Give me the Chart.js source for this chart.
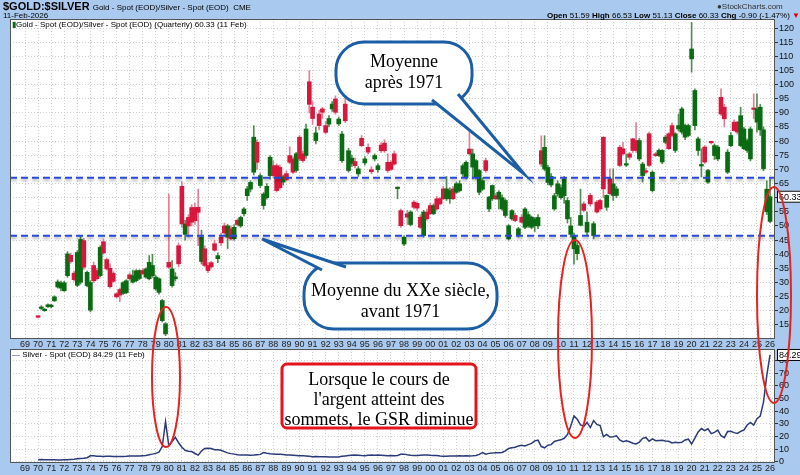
<!DOCTYPE html>
<html>
<head>
<meta charset="utf-8">
<script src="https://cdn.jsdelivr.net/npm/chart.js@4.4.1/dist/chart.umd.min.js"></script>
<style>
  body { margin: 0; background: #a9c9ee; }
  #wrap { position: relative; width: 800px; height: 475px; overflow: hidden; font-family: "Liberation Sans", Arial, sans-serif; }
  canvas { position: absolute; left: 0; top: 0; }
  .t { position: absolute; white-space: nowrap; color: #000; line-height: 1; }
</style>
</head>
<body>
<div id="wrap">
  <canvas id="lower" width="800" height="475"></canvas>
  <canvas id="upper" width="800" height="475"></canvas>
  <div class="t" style="left:3px;top:1px;font-size:11px;font-weight:bold;">$GOLD:$SILVER <span style="font-size:8px;font-weight:normal;">Gold - Spot (EOD)/Silver - Spot (EOD)&nbsp; CME</span></div>
  <div class="t" style="left:3px;top:12px;font-size:8px;">11-Feb-2026</div>
  <div class="t" style="left:717px;top:3px;font-size:8px;color:#333;">&#9679;StockCharts.com</div>
  <div class="t" style="left:547px;top:12px;font-size:8px;"><b>Open</b> 51.59 <b>High</b> 66.53 <b>Low</b> 51.13 <b>Close</b> 60.33 <b>Chg</b> -0.90 (-1.47%) <span style="color:#d00">&#9660;</span></div>
  <div class="t" style="left:12px;top:21px;font-size:8px;"><span style="color:#0a6e14">&#9646;</span>Gold - Spot (EOD)/Silver - Spot (EOD) (Quarterly) 60.33 (11 Feb)</div>
  <div class="t" style="left:12px;top:351px;font-size:8px;"><span style="color:#2b3a78">&#8212;</span> Silver - Spot (EOD) 84.29 (11 Feb)</div>
</div>
<script>
// quarterly candles of the gold/silver ratio, first candle = 1970 Q1
const firstQuarter = 1970;
const opens = [
  18.0, 20.8, 20.0, 21.4,  21.4, 23.5, 28.4, 28.0,  27.1, 32.4, 39.6, 33.3,  29.0, 30.1, 44.8, 28.9,
  20.2, 36.0, 34.2, 32.4,  44.4, 38.1, 35.0, 33.2,  26.0, 27.5, 26.1, 26.4,  32.7, 30.1, 30.6, 31.4,
  34.2, 31.9, 31.3, 32.4,  27.7, 26.5, 16.5, 11.8,  37.1, 28.9, 31.3, 43.0,  64.0, 47.0, 53.0, 56.5,
  56.5, 56.6, 37.4, 41.9,  36.0, 37.0, 43.7, 38.4,  46.0, 50.0, 46.0, 49.0,  45.5, 52.0, 50.0, 54.3,
  60.7, 63.0, 69.0, 79.6,  64.3, 57.2, 60.0, 67.8,  71.3, 71.3, 70.7, 65.5,  68.5, 74.9, 73.7, 69.6,
  81.4, 75.5, 74.9, 101.0, 92.0, 80.2, 89.6, 91.4,  85.5, 86.0, 91.4, 94.9,  86.1, 73.1, 93.1, 69.6,
  72.0, 72.8, 68.4, 81.0,  72.3, 77.8, 69.9, 73.7,  69.9, 78.6, 79.3, 72.5,  72.5, 75.5, 63.2, 55.4,
  43.6, 54.3, 50.5, 58.4,  58.0, 53.1, 46.6, 54.9,  57.2, 54.3, 59.6, 59.6,  63.1, 59.6, 59.6, 63.1,
  61.9, 62.5, 68.4, 67.2,  77.2, 70.8, 67.2, 61.9,  63.0, 73.1, 56.0, 59.6,  60.7, 59.5, 56.0, 53.7,
  45.4, 52.5, 53.7, 46.6,  53.1, 49.5, 50.0, 49.5,  50.1, 50.0, 76.6, 70.1,  65.4, 64.5, 56.0, 61.3,
  60.0, 60.7, 52.5, 47.0,  41.9, 40.2, 50.2, 57.8,  47.8, 60.8, 46.6, 58.4,  59.0, 81.4, 56.6, 66.7,
  60.8, 60.8, 77.8, 77.3,  71.5, 75.5, 80.8, 80.2,  73.7, 67.8, 69.5, 82.6,  62.5, 75.5, 74.9, 72.6,
  79.6, 82.6, 85.5, 76.7,  84.3, 83.2, 81.4, 82.0,  109.1, 85.5, 76.7, 71.2, 77.9, 65.5, 79.8, 74.9,
  73.7, 95.5, 92.0, 69.0,  78.4, 86.7, 86.7, 78.4,  77.3, 76.7, 73.7, 91.6,  86.7, 84.0, 70.2, 55.0,
  51.59
];
const highs = [
  18.2, 21.8, 20.8, 22.4,  22.3, 25.3, 30.9, 30.5,  30.4, 40.9, 40.4, 34.0,  41.3, 46.6, 45.6, 34.0,
  30.6, 37.2, 35.0, 43.0,  45.2, 38.6, 36.6, 33.8,  26.4, 28.0, 30.3, 31.0,  33.4, 34.4, 34.6, 34.5,
  34.9, 35.2, 39.5, 40.0,  32.5, 31.6, 24.0, 15.8,  61.3, 37.7, 33.5, 44.0,  65.6, 52.0, 54.0, 57.5,
  58.0, 63.0, 48.5, 43.0,  37.0, 37.5, 45.0, 40.5,  47.5, 51.0, 50.5, 50.0,  50.5, 52.5, 53.5, 56.5,
  64.0, 66.0, 85.5, 80.5,  68.5, 61.8, 65.0, 74.9,  73.0, 72.0, 71.5, 68.0,  69.5, 78.0, 74.5, 76.0,
  82.0, 76.5, 86.0, 104.9, 94.0, 85.0, 91.0, 92.0,  87.0, 89.0, 94.0, 96.0,  88.5, 83.5, 95.5, 77.5,
  75.0, 74.0, 71.0, 82.0,  74.5, 79.0, 71.0, 75.5,  72.0, 79.5, 80.5, 75.5,  73.0, 76.5, 63.8, 56.0,
  46.5, 55.5, 55.4, 59.0,  58.5, 54.0, 55.5, 56.0,  58.0, 57.8, 60.5, 60.0,  64.0, 67.5, 63.5, 64.0,
  65.5, 66.0, 72.0, 73.0,  83.7, 77.2, 73.5, 70.0,  67.0, 74.0, 60.5, 64.5,  61.5, 62.5, 61.0, 59.6,
  50.5, 55.8, 54.5, 49.5,  54.0, 56.5, 55.0, 53.5,  53.0, 54.0, 81.9, 81.9,  71.5, 68.5, 61.5, 66.0,
  64.5, 67.5, 60.0, 53.0,  47.5, 44.0, 63.0, 58.5,  54.9, 61.5, 51.5, 59.0,  59.5, 81.5, 61.0, 70.2,
  70.2, 64.0, 78.5, 79.6,  75.5, 76.0, 81.0, 86.6,  81.0, 72.5, 70.5, 83.2,  69.5, 76.0, 77.3, 77.0,
  82.0, 83.0, 86.5, 83.0,  89.6, 92.0, 86.0, 86.0,  122.0, 98.5, 81.4, 77.3, 78.5, 70.0, 80.0, 79.0,
  78.5, 98.5, 93.0, 77.0,  83.0, 87.5, 87.0, 92.0,  85.0, 80.8, 85.0, 96.7,  96.7, 93.0, 85.0, 66.0,
  66.53
];
const lows = [
  17.5, 20.4, 19.8, 21.2,  21.0, 23.3, 28.0, 27.0,  26.8, 31.8, 36.8, 30.5,  28.5, 29.4, 34.6, 28.4,
  19.6, 30.0, 30.8, 32.0,  40.0, 34.4, 28.0, 30.0,  24.5, 23.2, 25.8, 26.0,  30.8, 29.8, 30.3, 31.0,
  32.7, 31.5, 30.9, 31.8,  27.2, 25.9, 16.0, 11.2,  35.0, 28.3, 30.5, 35.5,  49.5, 45.0, 46.0, 50.0,
  50.5, 43.0, 36.5, 35.5,  33.5, 35.0, 41.0, 37.0,  43.0, 47.0, 42.0, 45.0,  45.0, 50.0, 49.5, 53.5,
  59.0, 62.0, 68.0, 70.0,  63.5, 55.9, 59.5, 66.5,  67.0, 62.0, 63.0, 64.5,  66.0, 72.0, 68.5, 69.0,
  73.0, 72.5, 74.0, 90.0,  86.0, 79.0, 84.0, 88.0,  82.5, 85.0, 90.5, 89.5,  85.5, 72.5, 86.5, 69.0,
  71.0, 70.5, 67.5, 78.0,  71.5, 75.5, 68.5, 73.0,  69.0, 76.0, 76.0, 69.0,  69.6, 71.5, 59.6, 49.5,
  43.0, 50.5, 50.0, 56.0,  55.5, 49.0, 46.0, 52.0,  54.0, 54.0, 55.5, 57.5,  59.3, 59.0, 58.0, 59.3,
  61.5, 62.0, 67.5, 66.5,  75.0, 66.6, 66.5, 61.0,  62.5, 69.0, 55.0, 59.0,  59.3, 56.0, 55.5, 53.0,
  45.0, 52.0, 51.5, 46.0,  51.0, 49.0, 49.5, 49.0,  48.0, 49.0, 71.0, 69.5,  64.5, 63.8, 55.5, 60.5,
  59.5, 58.0, 51.0, 46.0,  36.5, 38.0, 50.0, 55.0,  46.6, 57.0, 45.4, 54.5,  55.5, 60.0, 55.5, 61.0,
  59.0, 60.0, 71.0, 75.0,  71.0, 73.5, 76.0, 76.0,  73.0, 65.5, 68.5, 71.0,  62.0, 74.5, 74.5, 72.0,
  79.0, 77.0, 81.5, 76.0,  83.5, 82.5, 80.5, 81.5,  104.4, 84.0, 74.9, 67.3, 72.0, 65.0, 79.0, 73.5,
  73.0, 89.0, 85.0, 68.5,  78.0, 83.5, 82.5, 78.0,  77.0, 76.0, 73.0, 87.9,  83.2, 82.0, 69.5, 54.0,
  51.13
];
const closes = [
  17.7, 21.3, 20.4, 22.1,  22.0, 24.9, 30.2, 29.8,  29.9, 40.1, 37.4, 31.0,  40.6, 45.2, 35.4, 33.6,
  30.0, 30.6, 31.3, 42.4,  40.4, 34.8, 28.5, 30.4,  24.9, 25.5, 29.9, 30.6,  31.3, 32.4, 34.1, 34.2,
  33.1, 34.8, 37.1, 36.0,  31.9, 31.3, 23.6, 15.4,  35.4, 34.8, 32.0, 36.6,  50.7, 50.7, 50.0, 51.3,
  51.8, 54.8, 46.0, 36.0,  34.2, 35.5, 41.4, 39.5,  44.0, 47.5, 50.0, 45.4,  49.5, 50.5, 53.0, 56.0,
  63.1, 65.4, 81.4, 72.5,  67.8, 61.3, 64.0, 74.3,  67.8, 62.5, 63.5, 67.4,  66.4, 72.5, 69.0, 75.5,
  73.7, 73.1, 84.3, 93.0,  88.0, 82.9, 85.5, 90.2,  83.1, 88.0, 93.1, 90.2,  87.8, 82.5, 87.2, 76.6,
  74.0, 71.3, 70.2, 78.4,  73.7, 76.1, 69.2, 74.9,  71.3, 76.6, 76.6, 69.6,  70.0, 71.9, 63.6, 50.1,
  46.0, 53.1, 54.9, 56.6,  56.3, 49.5, 54.9, 52.5,  54.3, 57.2, 56.0, 57.8,  59.6, 63.1, 62.5, 59.6,
  64.9, 64.9, 71.3, 72.5,  75.5, 75.5, 73.1, 69.6,  66.0, 69.6, 60.2, 64.3,  59.6, 61.9, 60.0, 59.0,
  50.1, 55.4, 51.9, 49.0,  51.3, 56.0, 54.0, 53.1,  52.5, 53.0, 71.9, 77.8,  70.7, 67.5, 60.7, 64.9,
  63.5, 66.6, 59.0, 50.0,  46.5, 43.1, 53.7, 55.5,  51.3, 57.8, 50.8, 54.9,  56.0, 63.1, 60.8, 61.4,
  64.9, 63.1, 71.4, 75.5,  72.0, 74.3, 76.7, 76.7,  80.2, 71.9, 69.0, 71.4,  69.0, 74.9, 76.7, 76.7,
  81.4, 77.3, 82.0, 82.6,  85.5, 91.4, 85.5, 85.5,  112.6, 97.9, 80.8, 71.6, 72.6, 69.6, 79.4, 78.4,
  77.9, 89.6, 87.9, 76.1,  82.0, 83.7, 83.2, 89.0,  84.3, 80.2, 84.3, 91.2,  91.4, 92.0, 84.0, 63.0,
  60.33
];
// quarterly silver close, same quarters
const silver = [
  1.6, 1.7, 1.6, 1.6,  1.5, 1.5, 1.4, 1.4,  1.5, 1.6, 1.8, 2.0,  2.3, 2.6, 2.8, 3.2,
  4.7, 4.8, 4.4, 4.4,  4.2, 4.4, 4.3, 4.2,  4.1, 4.2, 4.2, 4.3,  4.5, 4.5, 4.5, 4.6,
  4.8, 5.0, 5.5, 6.0,  6.6, 7.5, 12.0, 31.7,  12.5, 16.0, 19.3, 15.0,  11.5, 9.0, 8.3, 8.0,
  6.5, 5.2, 8.5, 10.5,  10.7, 10.5, 9.5, 9.4,  9.0, 8.0, 7.0, 6.4,  6.0, 5.6, 5.3, 5.4,
  5.3, 5.2, 5.3, 5.6,  5.8, 7.2, 6.7, 6.3,  6.2, 6.0, 5.9, 5.7,  5.4, 5.3, 5.2, 5.0,
  4.8, 4.7, 4.6, 4.3,  4.0, 4.1, 4.0, 3.9,  3.9, 3.8, 3.7, 3.7,  3.8, 4.3, 4.6, 4.9,
  5.2, 5.3, 5.2, 4.9,  4.7, 5.2, 5.3, 5.1,  5.4, 5.2, 5.0, 4.8,  5.0, 4.8, 5.0, 5.9,
  6.0, 5.5, 5.2, 5.0,  5.0, 5.2, 5.4, 5.3,  5.1, 5.0, 4.9, 4.6,  4.4, 4.3, 4.5, 4.6,
  4.6, 4.8, 4.6, 4.7,  4.5, 4.7, 5.0, 5.8,  7.2, 6.0, 6.6, 6.8,  7.1, 7.0, 7.3, 8.6,
  10.5, 11.0, 11.5, 12.5,  13.0, 12.5, 13.5, 14.5,  16.5, 17.0, 12.0, 11.0,  13.0, 13.5, 16.0, 16.8,
  17.3, 18.5, 21.5, 28.0,  36.2, 33.5, 29.0, 28.0,  31.0, 27.0, 32.5, 29.5,  28.5, 19.8, 21.5, 19.5,
  19.8, 20.5, 17.2, 15.8,  16.5, 15.8, 14.6, 14.0,  15.5, 18.5, 19.2, 16.2,  18.0, 16.6, 16.8, 16.9,
  16.4, 16.1, 14.8, 15.4,  15.0, 15.3, 17.2, 17.8,  14.0, 18.6, 23.5, 26.2,  24.5, 26.0, 22.2, 23.2,
  25.0, 20.5, 19.0, 23.8,  24.0, 23.0, 22.3, 24.0,  25.0, 29.0, 31.0, 29.0,  34.0, 36.0, 47.0, 68.0,
  84.29
];
const ratioLevels = [67, 46.5];               // "Moyenne après 1971", "Moyenne du XXe siècle"
const ratioTicks = [15, 20, 25, 30, 35, 40, 45, 50, 55, 60, 65, 70, 75, 80, 85, 90, 95, 100, 105, 110, 115, 120];
const silverTicks = [0, 5, 10, 15, 20, 25, 30, 35, 40, 45, 50, 55, 60, 65, 70, 75, 80, 85];
const yearTicks = [];
for (let y = 1969; y <= 2026; y++) yearTicks.push(y);

const xMin = 1967.85, xMax = 2026.38;
const green = '#0b6b12', red = '#d8173c';
const font = { family: '"Liberation Sans", Arial, sans-serif', size: 9 };

const xs = opens.map((o, i) => firstQuarter + i / 4);
const isUp = closes.map((c, i) => c >= opens[i]);

const frame = {
  id: 'frame',
  beforeDraw(chart) {
    const a = chart.chartArea, ctx = chart.ctx;
    ctx.save();
    ctx.fillStyle = '#ffffff';
    ctx.fillRect(a.left, a.top, a.right - a.left, a.bottom - a.top);
    ctx.restore();
  },
  beforeDatasetDraw(chart, args) {
    if (chart.data.datasets[args.index].shadow) {
      chart.ctx.save();
      chart.ctx.shadowColor = 'rgba(0,0,0,0.35)';
      chart.ctx.shadowBlur = 3;
      chart.ctx.shadowOffsetY = 2;
    }
  },
  afterDatasetDraw(chart, args) {
    if (chart.data.datasets[args.index].shadow) chart.ctx.restore();
  },
  afterDraw(chart) {
    const a = chart.chartArea, ctx = chart.ctx;
    ctx.save();
    ctx.strokeStyle = '#555';
    ctx.lineWidth = 1;
    ctx.strokeRect(a.left + 0.5, a.top + 0.5, a.right - a.left - 1, a.bottom - a.top - 1);
    ctx.restore();
    const tag = chart.options.plugins.frame && chart.options.plugins.frame.tag;
    if (tag) {
      const y = chart.scales.y.getPixelForValue(tag);
      ctx.save();
      ctx.font = '9px "Liberation Sans", Arial, sans-serif';
      const txt = tag.toFixed(2);
      const w = ctx.measureText(txt).width + 4;
      ctx.fillStyle = '#fff';
      ctx.fillRect(a.right + 2, y - 6, w, 12);
      ctx.strokeStyle = '#000';
      ctx.strokeRect(a.right + 2.5, y - 5.5, w, 11);
      ctx.fillStyle = '#000';
      ctx.textBaseline = 'middle';
      ctx.fillText(txt, a.right + 4, y + 0.5);
      ctx.restore();
    }
  }
};

// callouts, ellipses and the red note
const notes = {
  id: 'notes',
  afterDraw(chart) {
    const ctx = chart.ctx;
    const serif = '18px "Liberation Serif", "Times New Roman", serif';

    function bubble(x, y, w, h, r, b1, tip, b2, lines, ly) {
      ctx.save();
      ctx.lineWidth = 3;
      ctx.strokeStyle = '#1b5ea6';
      ctx.fillStyle = '#fff';
      ctx.beginPath();
      ctx.roundRect(x, y, w, h, r);
      ctx.fill();
      ctx.stroke();
      ctx.beginPath();
      ctx.moveTo(b1[0], b1[1]);
      ctx.lineTo(tip[0], tip[1]);
      ctx.lineTo(b2[0], b2[1]);
      ctx.closePath();
      ctx.fill();
      ctx.beginPath();
      ctx.moveTo(b1[0], b1[1]);
      ctx.lineTo(tip[0], tip[1]);
      ctx.lineTo(b2[0], b2[1]);
      ctx.stroke();
      ctx.fillStyle = '#000';
      ctx.font = serif;
      ctx.textAlign = 'center';
      ctx.textBaseline = 'middle';
      lines.forEach((t, i) => ctx.fillText(t, x + w / 2, ly[i]));
      ctx.restore();
    }

    bubble(336, 42, 136, 62, 28, [432, 100], [524, 174], [458, 94], ['Moyenne', 'après 1971'], [62, 83]);
    bubble(304, 263, 193, 66, 30, [322, 270], [262, 239], [346, 267], ['Moyenne du XXe siècle,', 'avant 1971'], [291, 312]);

    // red note
    ctx.save();
    ctx.lineWidth = 3;
    ctx.strokeStyle = '#e3141b';
    ctx.fillStyle = '#fff';
    ctx.beginPath();
    ctx.roundRect(282, 364, 194, 64, 5);
    ctx.fill();
    ctx.stroke();
    ctx.fillStyle = '#000';
    ctx.font = serif;
    ctx.textAlign = 'center';
    ctx.textBaseline = 'middle';
    ['Lorsque le cours de', "l'argent atteint des", 'sommets, le GSR diminue'].forEach((t, i) => ctx.fillText(t, 379, 380 + i * 20));
    ctx.restore();

    // red ellipses
    ctx.save();
    ctx.lineWidth = 2;
    ctx.strokeStyle = '#e8231f';
    [[166, 377, 14, 70], [575, 339, 17, 99], [774, 295, 17, 108]].forEach(e => {
      ctx.beginPath();
      ctx.ellipse(e[0], e[1], e[2], e[3], 0, 0, Math.PI * 2);
      ctx.stroke();
    });
    ctx.restore();
  }
};

function xScale() {
  return {
    type: 'linear', min: xMin, max: xMax, offset: false,
    afterBuildTicks: s => { s.ticks = yearTicks.map(v => ({ value: v })); },
    afterFit: s => { s.height = 12; },
    ticks: { callback: v => String(v).slice(2), font: font, color: '#222', maxRotation: 0, autoSkip: false, padding: 0 },
    grid: { color: '#cfcfcf', drawTicks: false, offset: false },
    border: { display: false, dash: [1, 2] }
  };
}

new Chart(document.getElementById('upper'), {
  type: 'bar',
  data: {
    datasets: [
      {
        type: 'line', label: 'avg1', shadow: true, order: 0,
        data: [{ x: xMin, y: ratioLevels[0] }, { x: xMax, y: ratioLevels[0] }],
        borderColor: '#2747de', borderWidth: 2, borderDash: [7, 4], pointRadius: 0
      },
      {
        type: 'line', label: 'avg2', shadow: true, order: 0,
        data: [{ x: xMin, y: ratioLevels[1] }, { x: xMax, y: ratioLevels[1] }],
        borderColor: '#2747de', borderWidth: 2, borderDash: [7, 4], pointRadius: 0
      },
      {
        label: 'body', order: 1, grouped: false,
        data: xs.map((x, i) => ({ x: x, y: [Math.min(opens[i], closes[i]), Math.max(opens[i], closes[i])] })),
        backgroundColor: isUp.map(u => u ? green : red),
        barThickness: 4, minBarLength: 1.5
      },
      {
        label: 'wick', order: 2, grouped: false,
        data: xs.map((x, i) => ({ x: x, y: [lows[i], highs[i]] })),
        backgroundColor: isUp.map(u => u ? '#4f8f50' : '#e77c93'),
        barThickness: 1
      }
    ]
  },
  options: {
    responsive: false, animation: false,
    layout: { padding: { left: 10, top: 19, right: 0, bottom: 124 } },
    plugins: { legend: { display: false }, tooltip: { enabled: false }, frame: { tag: closes[closes.length - 1] } },
    scales: {
      x: xScale(),
      y: {
        position: 'right', min: 10, max: 123.2,
        afterBuildTicks: s => { s.ticks = ratioTicks.map(v => ({ value: v })); },
        afterFit: s => { s.width = 25; },
        ticks: { font: font, color: '#111', padding: 1 },
        grid: { color: '#cfcfcf', tickLength: 3, tickColor: '#333' },
        border: { display: false, dash: [1, 2] }
      }
    }
  },
  plugins: [frame, notes]
});

new Chart(document.getElementById('lower'), {
  type: 'line',
  data: {
    datasets: [{
      label: 'Silver',
      data: xs.map((x, i) => ({ x: x, y: silver[i] })),
      borderColor: '#2b3a78', borderWidth: 1.5, pointRadius: 0, tension: 0
    }]
  },
  options: {
    responsive: false, animation: false,
    layout: { padding: { left: 10, top: 349, right: 0, bottom: 0 } },
    plugins: { legend: { display: false }, tooltip: { enabled: false }, frame: { tag: silver[silver.length - 1] } },
    scales: {
      x: xScale(),
      y: {
        position: 'right', min: -1, max: 89,
        afterBuildTicks: s => { s.ticks = silverTicks.map(v => ({ value: v })); },
        afterFit: s => { s.width = 25; },
        ticks: { font: font, color: '#111', padding: 1, callback: v => (v % 10 === 0 && v <= 80) ? v : '' },
        grid: { color: '#cfcfcf', tickLength: 3, tickColor: '#333' },
        border: { display: false, dash: [1, 2] }
      }
    }
  },
  plugins: [frame]
});
</script>
</body>
</html>
